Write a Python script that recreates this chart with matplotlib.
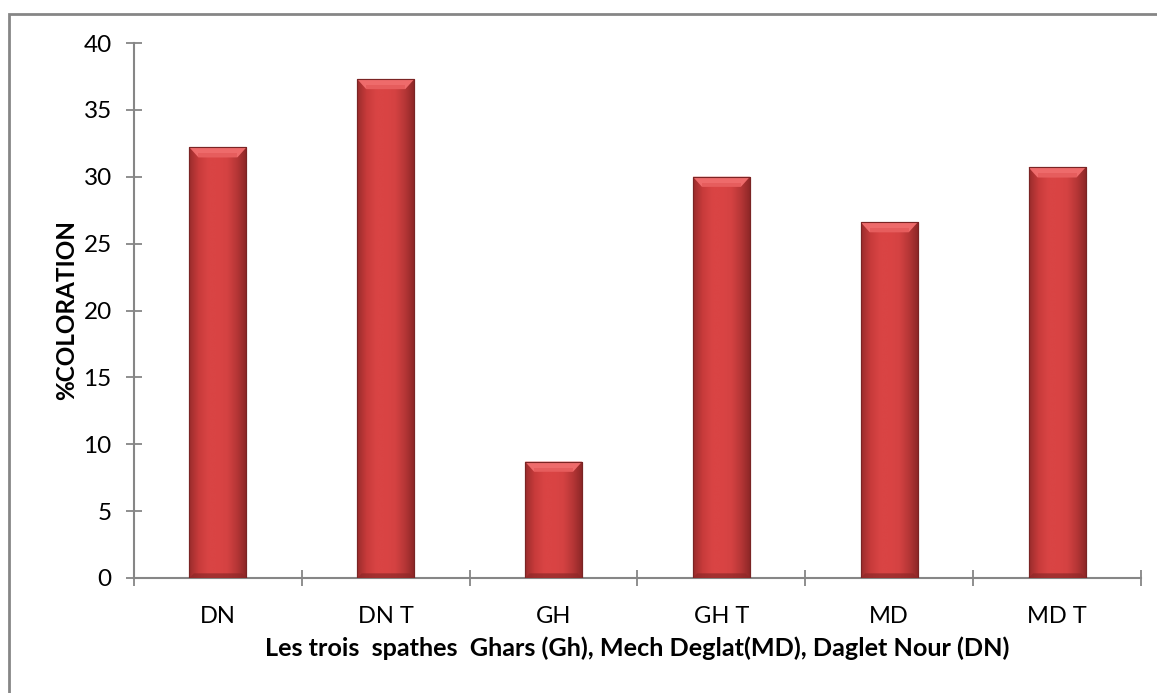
import numpy as np
import matplotlib
matplotlib.use("Agg")
import matplotlib.pyplot as plt
from matplotlib.patches import Rectangle, Polygon
from matplotlib.colors import LinearSegmentedColormap

categories = ["DN", "DN T", "GH", "GH T", "MD", "MD T"]
values = [32.2, 37.3, 8.7, 30.0, 26.6, 30.7]
y_ticks = [0, 5, 10, 15, 20, 25, 30, 35, 40]
x_label = "Les trois  spathes  Ghars (Gh), Mech Deglat(MD), Daglet Nour (DN)"
y_label = "%COLORATION"

plt.rcParams['font.family'] = ['Lato', 'DejaVu Sans']

W, H = 1157, 693
fig = plt.figure(figsize=(W / 100, H / 100), dpi=100)
fig.patch.set_facecolor("white")

# outer chart-area border (only left/top visible in reference)
fig.patches.append(Rectangle((8.5 / W, -0.2), 1.3, 1 - 13.5 / H + 0.2,
                             transform=fig.transFigure, fill=False,
                             edgecolor="#868686", linewidth=2, zorder=0))

ax = fig.add_axes([134 / W, 1 - 578 / H, (1141 - 134) / W, (578 - 43) / H])
x = np.arange(len(categories))
bw = 0.34
bars = ax.bar(x, values, width=bw, color="#D64141", edgecolor="#8E2A2A",
              linewidth=0.8, zorder=3)

# gradient shading for bevel look
cmap_h = LinearSegmentedColormap.from_list(
    "h", ["#9A2C2C", "#C83B3B", "#D94444", "#DA4444", "#D44242", "#B53636", "#8A2626"])
grad = np.tile(np.linspace(0, 1, 200), (50, 1))
px_per_unit_y = (578 - 43) / 40.0
px_per_unit_x = (1141 - 134) / 6.0
for rect, v in zip(bars, values):
    x0 = rect.get_x()
    w = rect.get_width()
    im = ax.imshow(grad, cmap=cmap_h, aspect="auto", extent=[x0, x0 + w, 0, v],
                   zorder=4, interpolation="bicubic")
    im.set_clip_path(rect)
    # top bevel
    bh = 10 / px_per_unit_y
    bx = 9 / px_per_unit_x
    ax.add_patch(Polygon([[x0, v], [x0 + w, v], [x0 + w - bx, v - bh], [x0 + bx, v - bh]],
                         closed=True, facecolor="#EE6B6B", edgecolor="none", zorder=5))
    ax.add_patch(Polygon([[x0 + bx, v - bh], [x0 + w - bx, v - bh],
                          [x0 + w - bx, v - bh * 0.6], [x0 + bx, v - bh * 0.6]],
                         closed=True, facecolor="#E25555", edgecolor="none", zorder=5, alpha=0.6))
    # bottom darker bevel
    ax.add_patch(Polygon([[x0, 0], [x0 + w, 0], [x0 + w - bx * 0.5, 0.35], [x0 + bx * 0.5, 0.35]],
                         closed=True, facecolor="#8E2828", edgecolor="none", zorder=5, alpha=0.7))
    ax.add_patch(Rectangle((x0, 0), w, v, fill=False, edgecolor="#7A2424",
                           linewidth=0.8, zorder=6))

ax.set_xlim(-0.5, len(categories) - 0.5)
ax.set_ylim(0, 40)
ax.set_yticks(y_ticks)
ax.set_yticklabels([str(t) for t in y_ticks], fontsize=17.5)
ax.set_xticks(x)
ax.set_xticklabels(categories, fontsize=17)
ax.set_xticks(np.arange(-0.5, len(categories), 1.0), minor=True)
ax.tick_params(axis="x", which="major", length=0, pad=20)
ax.tick_params(axis="x", which="minor", direction="inout", length=12,
               width=1.3, color="#868686")
ax.tick_params(axis="y", direction="inout", length=12, width=1.3,
               color="#868686", pad=10)

for s in ["top", "right"]:
    ax.spines[s].set_visible(False)
for s in ["left", "bottom"]:
    ax.spines[s].set_color("#868686")
    ax.spines[s].set_linewidth(1.5)

ax.set_xlabel(x_label, fontsize=18.2, fontweight="bold", labelpad=7)
ax.set_ylabel(y_label, fontsize=17.5, fontweight="bold", labelpad=4)

fig.savefig("out.png", dpi=100, facecolor="white")
